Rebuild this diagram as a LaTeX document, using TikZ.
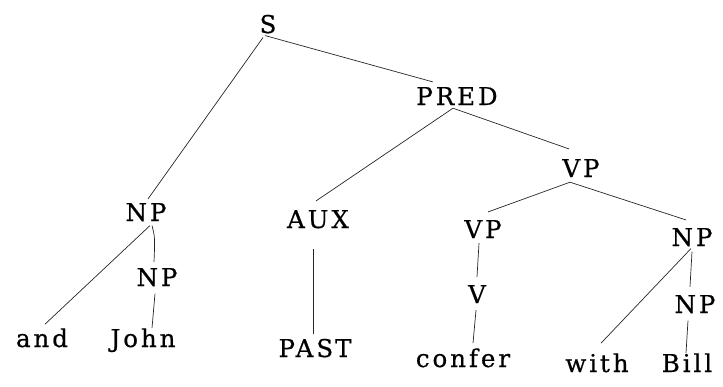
\documentclass[tikz,border=0pt]{standalone}
\usepackage{fontspec}
\newfontfamily\treefont{DejaVu Serif}[LetterSpace=12,FakeBold=0.6]
\begin{document}
\begin{tikzpicture}[x=1pt,y=-1pt,
  lab/.style={inner sep=0pt,anchor=base,font=\treefont\fontsize{24.5}{28}\selectfont},
  edge/.style={line width=0.7pt,draw=black!85}]
\useasboundingbox (0,0) rectangle (723,386);
\node[lab] (s) at (268,33) {S};
\node[lab] (pred) at (457,105) {PRED};
\node[lab] (vp) at (581,177) {VP};
\node[lab] (np1) at (146,221) {NP};
\node[lab] (np2) at (157,286) {NP};
\node[lab] (and) at (42,347) {and};
\node[lab] (john) at (143,347) {John};
\node[lab] (aux) at (318,228) {A\kern3pt UX};
\node[lab] (past) at (315,357) {PAS\kern2pt T};
\node[lab] (vp2) at (483,238) {VP};
\node[lab] (v) at (477,303) {V};
\node[lab] (confer) at (463,367) {confer};
\node[lab] (np3) at (692,246) {NP};
\node[lab] (np4) at (695,313) {NP};
\node[lab] (with) at (597,372) {with};
\node[lab] (bill) at (687,372) {Bill};

\draw[edge] ([xshift=-3pt,yshift=-2pt]s.south) -- ([xshift=-24pt,yshift=5pt]pred.north);
\draw[edge] ([xshift=-5pt,yshift=-4pt]s.south) -- ([xshift=2pt,yshift=4pt]np1.north);
\draw[edge] ([xshift=-4pt,yshift=-3pt]pred.south) -- ([xshift=-2pt,yshift=9pt]aux.north);
\draw[edge] ([xshift=-4pt,yshift=-3pt]pred.south) -- ([xshift=-12pt,yshift=10pt]vp.north);
\draw[edge] ([xshift=-11pt,yshift=-5pt]vp.south) -- ([xshift=5pt,yshift=8pt]vp2.north);
\draw[edge] ([xshift=-11pt,yshift=-5pt]vp.south) -- ([xshift=-6pt,yshift=8pt]np3.north);
\draw[edge] ([xshift=4pt,yshift=-4pt]np1.south) -- ([xshift=3pt,yshift=4pt]and.north);
\draw[edge] ([xshift=6pt,yshift=-4pt]np1.south) .. controls ([xshift=9pt,yshift=-16pt]np1.south) .. ([xshift=-3pt,yshift=6pt]np2.north);
\draw[edge] ([xshift=-2pt,yshift=-7pt]np2.south) -- ([xshift=9pt]john.north);
\draw[edge] ([xshift=-5pt,yshift=-20pt]aux.south) -- ([xshift=-2pt,yshift=5pt]past.north);
\draw[edge] ([xshift=-4pt,yshift=-5pt]vp2.south) -- ([yshift=8pt]v.north);
\draw[edge] ([xshift=-1pt,yshift=-7pt]v.south) -- ([xshift=10pt,yshift=5pt]confer.north);
\draw[edge] ([xshift=-1pt,yshift=-2pt]np3.south) -- ([xshift=4pt,yshift=10pt]with.north);
\draw[edge] ([yshift=-5pt]np3.south) -- ([xshift=-5pt,yshift=8pt]np4.north);
\draw[edge] ([xshift=-7pt,yshift=-7pt]np4.south) -- ([xshift=-1pt]bill.north);
\end{tikzpicture}
\end{document}
